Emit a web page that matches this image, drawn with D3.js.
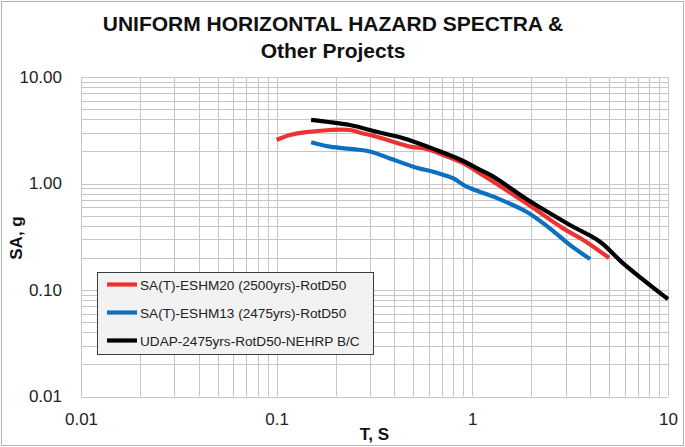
<!DOCTYPE html>
<html>
<head>
<meta charset="utf-8">
<script src="https://cdn.jsdelivr.net/npm/d3@7"></script>
<style>
  html, body { margin: 0; padding: 0; background: #fff; }
</style>
</head>
<body>
<div id="chart"></div>
<script>
// values (period T in s, SA in g)
const redT  = [0.1, 0.117, 0.148, 0.187, 0.237, 0.267, 0.324, 0.379, 0.48, 0.583, 0.71, 0.898, 1.09, 1.28, 1.89, 2.91, 3.69, 5.0];
const redSA = [2.56, 2.85, 3.06, 3.18, 3.18, 3.0, 2.75, 2.52, 2.22, 2.11, 1.85, 1.55, 1.25, 1.04, 0.652, 0.379, 0.295, 0.2];

const blueT  = [0.15, 0.187, 0.246, 0.30, 0.379, 0.499, 0.657, 0.798, 0.935, 1.28, 1.89, 2.49, 3.15, 4.0];
const blueSA = [2.44, 2.22, 2.10, 2.0, 1.72, 1.44, 1.26, 1.12, 0.933, 0.752, 0.543, 0.379, 0.265, 0.195];

const blackT  = [0.15, 0.18, 0.237, 0.324, 0.444, 0.657, 0.865, 1.09, 1.28, 1.89, 3.15, 4.49, 5.9, 10];
const blackSA = [3.95, 3.8, 3.54, 3.06, 2.66, 2.06, 1.68, 1.35, 1.16, 0.715, 0.408, 0.284, 0.178, 0.082];

const seriesNames  = ["SA(T)-ESHM20 (2500yrs)-RotD50", "SA(T)-ESHM13 (2475yrs)-RotD50", "UDAP-2475yrs-RotD50-NEHRP B/C"];
const seriesColors = ["#ee3232", "#0b70c0", "#000000"];

const xTickValues = [0.01, 0.1, 1, 10];
const xTickLabels = ["0.01", "0.1", "1", "10"];
const yTickValues = [0.01, 0.1, 1, 10];
const yTickLabels = ["0.01", "0.10", "1.00", "10.00"];

const titleLines = ["UNIFORM HORIZONTAL HAZARD SPECTRA &", "Other Projects"];

const width = 685, height = 447;
const marginLeft = 81, marginRight = 17, marginTop = 77, marginBottom = 50.5;
const font = "'Liberation Sans', Arial, sans-serif";

const x = d3.scaleLog().domain([0.01, 10]).range([marginLeft, width - marginRight]);
const y = d3.scaleLog().domain([0.01, 10]).range([height - marginBottom, marginTop]);

const series = [
  d3.zip(redT, redSA),
  d3.zip(blueT, blueSA),
  d3.zip(blackT, blackSA)
];

const svg = d3.select("#chart").append("svg")
    .attr("width", width)
    .attr("height", height)
    .attr("viewBox", [0, 0, width, height])
    .attr("font-family", font);

// chart area border
svg.append("rect")
    .attr("x", 1.5).attr("y", 1.5)
    .attr("width", width - 3).attr("height", height - 3)
    .attr("fill", "#fff")
    .attr("stroke", "#b4b4b4");

// log gridlines (major + minor)
const grid = svg.append("g").attr("stroke", "#c6c6c6").attr("stroke-width", 1);
grid.selectAll(".gx")
  .data(x.ticks())
  .join("line")
    .attr("x1", d => Math.round(x(d)) + 0.5)
    .attr("x2", d => Math.round(x(d)) + 0.5)
    .attr("y1", y(10))
    .attr("y2", y(0.01));
grid.selectAll(".gy")
  .data(y.ticks())
  .join("line")
    .attr("y1", d => Math.round(y(d)) + 0.5)
    .attr("y2", d => Math.round(y(d)) + 0.5)
    .attr("x1", x(0.01))
    .attr("x2", x(10));

// axes (labels only, like the Excel original)
const xAxis = d3.axisBottom(x)
    .tickValues(xTickValues)
    .tickFormat((d, i) => xTickLabels[i])
    .tickSize(0)
    .tickPadding(16);
svg.append("g")
    .attr("transform", `translate(0,${y(0.01)})`)
    .call(xAxis)
    .call(g => g.select(".domain").remove())
    .call(g => g.selectAll("text").attr("font-size", 17).attr("font-family", font).attr("fill", "#222"));

const yAxis = d3.axisLeft(y)
    .tickValues(yTickValues)
    .tickFormat((d, i) => yTickLabels[i])
    .tickSize(0)
    .tickPadding(19);
svg.append("g")
    .attr("transform", `translate(${x(0.01)},0)`)
    .call(yAxis)
    .call(g => g.select(".domain").remove())
    .call(g => g.selectAll("text").attr("font-size", 17).attr("font-family", font).attr("fill", "#222"));

// series lines
const line = d3.line()
    .x(d => x(d[0]))
    .y(d => y(d[1]))
    .curve(d3.curveCatmullRom.alpha(0.5));

svg.append("g")
  .selectAll("path")
  .data(series)
  .join("path")
    .attr("fill", "none")
    .attr("stroke", (d, i) => seriesColors[i])
    .attr("stroke-width", 4.2)
    .attr("stroke-linejoin", "round")
    .attr("d", line);

// titles
svg.append("g")
  .selectAll("text")
  .data(titleLines)
  .join("text")
    .attr("x", 333)
    .attr("y", (d, i) => 31 + i * 27)
    .attr("text-anchor", "middle")
    .attr("font-weight", "bold")
    .attr("font-size", 21)
    .attr("fill", "#111")
    .text(d => d);

svg.append("text")
    .attr("transform", `translate(22,${238}) rotate(-90)`)
    .attr("text-anchor", "middle")
    .attr("font-weight", "bold")
    .attr("font-size", 17)
    .attr("fill", "#111")
    .text("SA, g");

svg.append("text")
    .attr("x", (x(0.01) + x(10)) / 2)
    .attr("y", 440)
    .attr("text-anchor", "middle")
    .attr("font-weight", "bold")
    .attr("font-size", 17)
    .attr("fill", "#111")
    .text("T, S");

// legend
const legend = svg.append("g").attr("transform", "translate(97,272)");
legend.append("rect")
    .attr("x", 0.5).attr("y", 0.5)
    .attr("width", 276).attr("height", 82)
    .attr("fill", "#f2f2f2")
    .attr("stroke", "#3c3c3c");

const item = legend.selectAll(".item")
  .data(seriesNames)
  .join("g")
    .attr("transform", (d, i) => `translate(0,${12.5 + i * 28})`);
item.append("line")
    .attr("x1", 10).attr("x2", 40)
    .attr("stroke", (d, i) => seriesColors[i])
    .attr("stroke-width", 4.2);
item.append("text")
    .attr("x", 43)
    .attr("y", 5)
    .attr("font-size", 13.6)
    .attr("fill", "#222")
    .text(d => d);
</script>
</body>
</html>
